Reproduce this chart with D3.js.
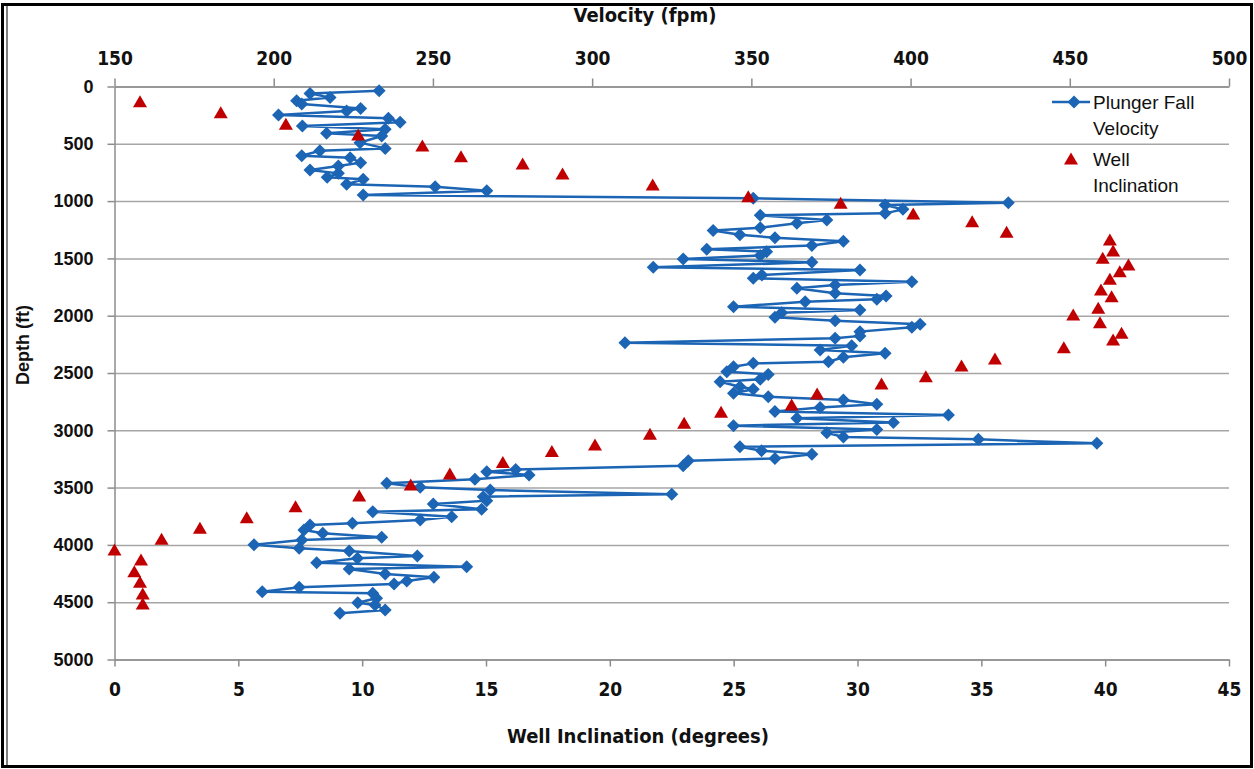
<!DOCTYPE html>
<html>
<head>
<meta charset="utf-8">
<script src="https://cdn.jsdelivr.net/npm/d3@7"></script>
<style>
  body { margin: 0; background: #fff; }
  svg { display: block; }
  .grid line { stroke: #a6a6a6; stroke-width: 1.5; }
  .grid path { display: none; }
  .axis path, .axis line { stroke: #8c8c8c; stroke-width: 1.5; }
  .tick-y text { font-family: "Liberation Sans", Arial, sans-serif; font-weight: bold; font-size: 18px; fill: #111; }
  .tick-x text { font-family: "Liberation Sans Narrow", "DejaVu Sans Condensed", sans-serif; font-weight: bold; font-size: 19px; fill: #111; }
  .title { font-family: "Liberation Sans Narrow", "DejaVu Sans Condensed", sans-serif; font-weight: bold; font-size: 20px; fill: #111; }
  .ytitle { font-family: "Liberation Sans", Arial, sans-serif; font-weight: bold; font-size: 18px; fill: #111; }
  .legend { font-family: "Liberation Sans", Arial, sans-serif; font-size: 19px; fill: #111; }
</style>
</head>
<body>
<svg width="1254" height="769"></svg>
<script>
// depth (ft) of each plunger velocity reading
const velDepth = [37, 60, 97, 124, 153, 191, 214, 249, 278, 313, 345, 374, 409, 432, 490, 540, 560, 604, 621, 665,
  694, 729, 758, 792, 810, 853, 874, 909, 947, 976, 1014, 1034, 1072, 1107, 1124, 1165, 1194, 1232, 1256, 1293,
  1320, 1351, 1388, 1420, 1441, 1475, 1505, 1534, 1578, 1601, 1645, 1674, 1703, 1732, 1761, 1805, 1828, 1857, 1878, 1921,
  1950, 1974, 2014, 2043, 2075, 2101, 2139, 2177, 2197, 2235, 2262, 2299, 2328, 2363, 2401, 2416, 2445, 2489, 2512, 2555,
  2576, 2620, 2642, 2677, 2707, 2736, 2773, 2802, 2835, 2866, 2895, 2931, 2960, 2992, 3022, 3058, 3079, 3114, 3143, 3178,
  3210, 3245, 3266, 3309, 3342, 3361, 3390, 3428, 3463, 3498, 3521, 3558, 3579, 3614, 3643, 3689, 3710, 3754, 3783, 3811,
  3826, 3870, 3899, 3934, 3957, 3998, 4030, 4053, 4097, 4117, 4155, 4190, 4210, 4254, 4283, 4315, 4341, 4370, 4408, 4422,
  4466, 4504, 4524, 4568, 4597];

// plunger fall velocity (fpm)
const velocity = [233.1, 211.4, 217.7, 207.2, 208.8, 227.3, 222.9, 201.5, 236.0, 239.7, 209.0, 235.0, 216.6, 233.9, 227.1, 235.0, 214.5, 208.8, 224.0, 227.3,
  220.3, 211.4, 220.3, 216.8, 228.1, 222.9, 250.7, 266.9, 228.1, 350.6, 430.7, 392.0, 397.6, 392.0, 352.8, 373.7, 364.3, 352.8, 338.0, 346.4,
  357.4, 378.9, 369.0, 336.0, 354.8, 352.8, 328.6, 369.0, 319.2, 384.1, 353.3, 350.6, 400.4, 376.3, 364.3, 376.3, 392.3, 389.4, 366.9, 344.4,
  384.1, 359.5, 357.4, 376.3, 403.0, 400.4, 384.1, 384.1, 376.3, 310.3, 381.5, 371.6, 392.0, 378.9, 374.2, 350.6, 344.4, 342.3, 355.3, 352.8,
  340.2, 346.4, 350.6, 344.4, 355.3, 378.9, 389.4, 371.6, 357.4, 411.9, 364.3, 394.6, 344.4, 389.4, 373.7, 378.9, 421.3, 458.5, 346.4, 353.2,
  369.0, 357.4, 330.2, 328.6, 276.0, 266.9, 280.2, 263.2, 235.5, 246.0, 268.0, 325.0, 265.8, 266.9, 250.1, 265.3, 231.1, 255.9, 246.0, 224.7,
  211.4, 209.5, 215.4, 233.9, 208.8, 193.8, 208.0, 223.7, 245.1, 226.3, 213.5, 260.6, 223.7, 235.0, 250.3, 241.8, 237.8, 208.0, 196.4, 231.1,
  232.3, 226.4, 231.8, 235.0, 220.8];

// depth (ft) of each survey station
const incDepth = [133, 229, 330, 423, 519, 612, 676, 763, 860, 961, 1019, 1113, 1180, 1272, 1339, 1435, 1499, 1558, 1616, 1683,
  1776, 1834, 1935, 1994, 2061, 2154, 2212, 2279, 2378, 2439, 2532, 2596, 2683, 2779, 2843, 2939, 3035, 3128, 3185, 3281,
  3381, 3477, 3573, 3667, 3763, 3855, 3951, 4044, 4132, 4234, 4327, 4428, 4516];

// well inclination (degrees)
const inclination = [1.03, 4.29, 6.92, 9.84, 12.43, 13.99, 16.48, 18.09, 21.73, 25.59, 29.32, 32.25, 34.63, 36.02, 40.19, 40.32, 39.90, 40.94, 40.59, 40.19,
  39.83, 40.26, 39.72, 38.71, 39.79, 40.66, 40.32, 38.33, 35.55, 34.20, 32.76, 30.97, 28.37, 27.34, 24.49, 23.00, 21.62, 19.40, 17.66, 15.68,
  13.54, 11.96, 9.88, 7.31, 5.34, 3.45, 1.90, 0.00, 1.07, 0.80, 1.03, 1.14, 1.14];

const depthTicks = d3.range(0, 5001, 500);
const velTicks = d3.range(150, 501, 50);
const incTicks = d3.range(0, 46, 5);

const svg = d3.select('svg');

const plotLeft = 114.5, plotRight = 1229, plotTop = 86.5, plotBottom = 659.5;

const yScale = d3.scaleLinear().domain([0, 5000]).range([plotTop, plotBottom]);
const xInc = d3.scaleLinear().domain([0, 45]).range([plotLeft, plotRight]);
const xVel = d3.scaleLinear().domain([150, 500]).range([plotLeft, plotRight]);

// page frame
svg.append('rect')
  .attr('x', 2.5).attr('y', 4.5).attr('width', 1249).attr('height', 762)
  .attr('fill', 'none').attr('stroke', '#000').attr('stroke-width', 3);
svg.append('line')
  .attr('x1', 7).attr('x2', 7).attr('y1', 6).attr('y2', 765)
  .attr('stroke', '#000').attr('stroke-width', 1);

// horizontal grid lines
svg.append('g')
  .attr('class', 'grid')
  .attr('transform', `translate(${plotLeft},0)`)
  .call(d3.axisLeft(yScale).tickValues(depthTicks).tickSize(-(plotRight - plotLeft)).tickFormat(''));

// depth axis
svg.append('g')
  .attr('class', 'axis tick-y')
  .attr('transform', `translate(${plotLeft},0)`)
  .call(d3.axisLeft(yScale).tickValues(depthTicks).tickFormat(d3.format('d'))
    .tickSize(7).tickSizeOuter(0).tickPadding(14));

// inclination axis (bottom)
svg.append('g')
  .attr('class', 'axis tick-x')
  .attr('transform', `translate(0,${plotBottom})`)
  .call(d3.axisBottom(xInc).tickValues(incTicks).tickSize(7).tickSizeOuter(0).tickPadding(16));

// velocity axis (top)
svg.append('g')
  .attr('class', 'axis tick-x')
  .attr('transform', `translate(0,${plotTop})`)
  .call(d3.axisTop(xVel).tickValues(velTicks).tickSize(8).tickSizeOuter(0).tickPadding(14));

svg.append('text')
  .attr('class', 'title')
  .attr('x', 645).attr('y', 22)
  .attr('text-anchor', 'middle')
  .text('Velocity  (fpm)');

svg.append('text')
  .attr('class', 'title')
  .attr('x', 638).attr('y', 743)
  .attr('text-anchor', 'middle')
  .text('Well Inclination  (degrees)');

svg.append('text')
  .attr('class', 'ytitle')
  .attr('transform', 'translate(29,345) rotate(-90)')
  .attr('text-anchor', 'middle')
  .text('Depth (ft)');

// plunger fall velocity series
const velData = velDepth.map((d, i) => ({ depth: d, v: velocity[i] }));
const blue = '#1c64b4';

svg.append('path')
  .datum(velData)
  .attr('fill', 'none')
  .attr('stroke', blue)
  .attr('stroke-width', 2.5)
  .attr('d', d3.line().x(d => xVel(d.v)).y(d => yScale(d.depth)));

const diamond = 'M0,-6.5L6.5,0L0,6.5L-6.5,0Z';
svg.append('g').selectAll('path')
  .data(velData)
  .join('path')
  .attr('d', diamond)
  .attr('fill', blue)
  .attr('transform', d => `translate(${xVel(d.v)},${yScale(d.depth)})`);

// well inclination series
const incData = incDepth.map((d, i) => ({ depth: d, inc: inclination[i] }));
const red = '#c00000';
const triangle = 'M0,-6.5L7,5.5L-7,5.5Z';

svg.append('g').selectAll('path')
  .data(incData)
  .join('path')
  .attr('d', triangle)
  .attr('fill', red)
  .attr('transform', d => `translate(${xInc(d.inc)},${yScale(d.depth)})`);

// legend
const lg = svg.append('g').attr('class', 'legend');
lg.append('line')
  .attr('x1', 1052).attr('x2', 1090).attr('y1', 102).attr('y2', 102)
  .attr('stroke', blue).attr('stroke-width', 2.5);
lg.append('path').attr('d', diamond).attr('fill', blue).attr('transform', 'translate(1074,102)');
lg.append('text').attr('x', 1093).attr('y', 109).text('Plunger Fall');
lg.append('text').attr('x', 1093).attr('y', 135).text('Velocity');
lg.append('path').attr('d', triangle).attr('fill', red).attr('transform', 'translate(1071,159)');
lg.append('text').attr('x', 1093).attr('y', 166).text('Well');
lg.append('text').attr('x', 1093).attr('y', 192).text('Inclination');
</script>
</body>
</html>
